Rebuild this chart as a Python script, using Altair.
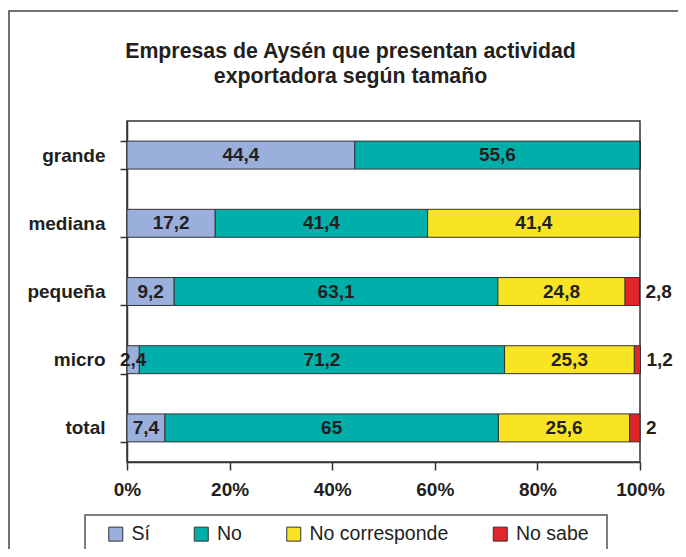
import altair as alt
import pandas as pd

categorias = ["grande", "mediana", "pequeña", "micro", "total"]
respuestas = ["Sí", "No", "No corresponde", "No sabe"]
si = [44.4, 17.2, 9.2, 2.4, 7.4]
no = [55.6, 41.4, 63.1, 71.2, 65]
no_corresponde = [0, 41.4, 24.8, 25.3, 25.6]
no_sabe = [0, 0, 2.8, 1.2, 2]
colores = ["#9aafdc", "#00aeaa", "#f8e423", "#e2242b"]

series = [si, no, no_corresponde, no_sabe]
rows = []
for j, r in enumerate(respuestas):
    for i, c in enumerate(categorias):
        rows.append({"categoria": c, "respuesta": r, "valor": series[j][i], "orden": j})
df = pd.DataFrame(rows)

FONT = "Liberation Sans"
INK = "#231f20"

y_enc = alt.Y(
    "categoria:N",
    sort=categorias,
    scale=alt.Scale(paddingInner=0.59, paddingOuter=0.295),
    axis=alt.Axis(
        title=None, tickBand="extent", labelFontSize=19, labelFontWeight="bold",
        labelFont=FONT, labelColor=INK, tickSize=7, labelPadding=15,
        domainColor="#333333", tickColor="#333333", domainWidth=1.5, tickWidth=1.5,
    ),
)

x_axis = alt.Axis(
    title=None, values=[0, 20, 40, 60, 80, 100], labelExpr="datum.value + '%'",
    grid=False, tickSize=8, labelPadding=10, labelFontSize=19, labelFontWeight="bold",
    labelFont=FONT, labelColor=INK, labelFlush=False, labelOverlap=False,
    domainColor="#333333", tickColor="#333333", domainWidth=1.5, tickWidth=1.5,
)

base = alt.Chart(df)

bars = base.mark_bar(stroke="#333333", strokeWidth=1).encode(
    x=alt.X("valor:Q", stack="zero", scale=alt.Scale(domain=[0, 100]), axis=x_axis),
    y=y_enc,
    color=alt.Color(
        "respuesta:N",
        scale=alt.Scale(domain=respuestas, range=colores),
        legend=alt.Legend(
            title=None, orient="none", direction="horizontal",
            legendX=-21, legendY=403, symbolType="square", symbolSize=196,
            symbolStrokeColor="#333333", symbolStrokeWidth=1, labelFontSize=19.5,
            labelFont=FONT, labelColor=INK, labelOffset=6, columnPadding=41.5,
            padding=0,
        ),
    ),
    order=alt.Order("orden:Q"),
)

stacked = base.transform_window(
    cum="sum(valor)", sort=[alt.SortField("orden")], groupby=["categoria"],
    frame=[None, 0],
).transform_calculate(
    mid="datum.cum - datum.valor / 2",
    etiqueta="replace(toString(datum.valor), '.', ',')",
)

labels_in = stacked.transform_filter(
    "datum.valor > 0 && datum.respuesta != 'No sabe'"
).mark_text(fontSize=19, fontWeight="bold", font=FONT, color=INK).encode(
    x=alt.X("mid:Q"), y=alt.Y("categoria:N", sort=categorias), text="etiqueta:N"
)

labels_out = stacked.transform_filter(
    "datum.valor > 0 && datum.respuesta == 'No sabe'"
).mark_text(fontSize=19, fontWeight="bold", font=FONT, color=INK, align="left", dx=6).encode(
    x=alt.X("cum:Q"), y=alt.Y("categoria:N", sort=categorias), text="etiqueta:N"
)

deco = pd.DataFrame({"k": [0]})
frame = alt.Chart(deco).mark_rect(fillOpacity=0, stroke="#444444", strokeWidth=1.5).encode(
    x=alt.value(-118), x2=alt.value(700), y=alt.value(-110), y2=alt.value(600)
)
legend_box = alt.Chart(deco).mark_rect(fillOpacity=0, stroke="#555555", strokeWidth=1.5).encode(
    x=alt.value(-42), x2=alt.value(480), y=alt.value(394), y2=alt.value(430)
)

chart = alt.layer(frame, legend_box, bars, labels_in, labels_out).properties(
    width=513,
    height=341,
    title=alt.Title(
        ["Empresas de Aysén que presentan actividad", "exportadora según tamaño"],
        fontSize=21.3, fontWeight="bold", font=FONT, color=INK, lineHeight=25,
        anchor="middle", dx=-33, offset=-77,
    ),
    padding={"left": 119, "top": 113, "right": 38, "bottom": 87},
    autosize=alt.AutoSizeParams(type="none"),
).configure_view(stroke="#333333", strokeWidth=1.5)

chart.save("out.html", embed_options={"renderer": "svg", "actions": False})
